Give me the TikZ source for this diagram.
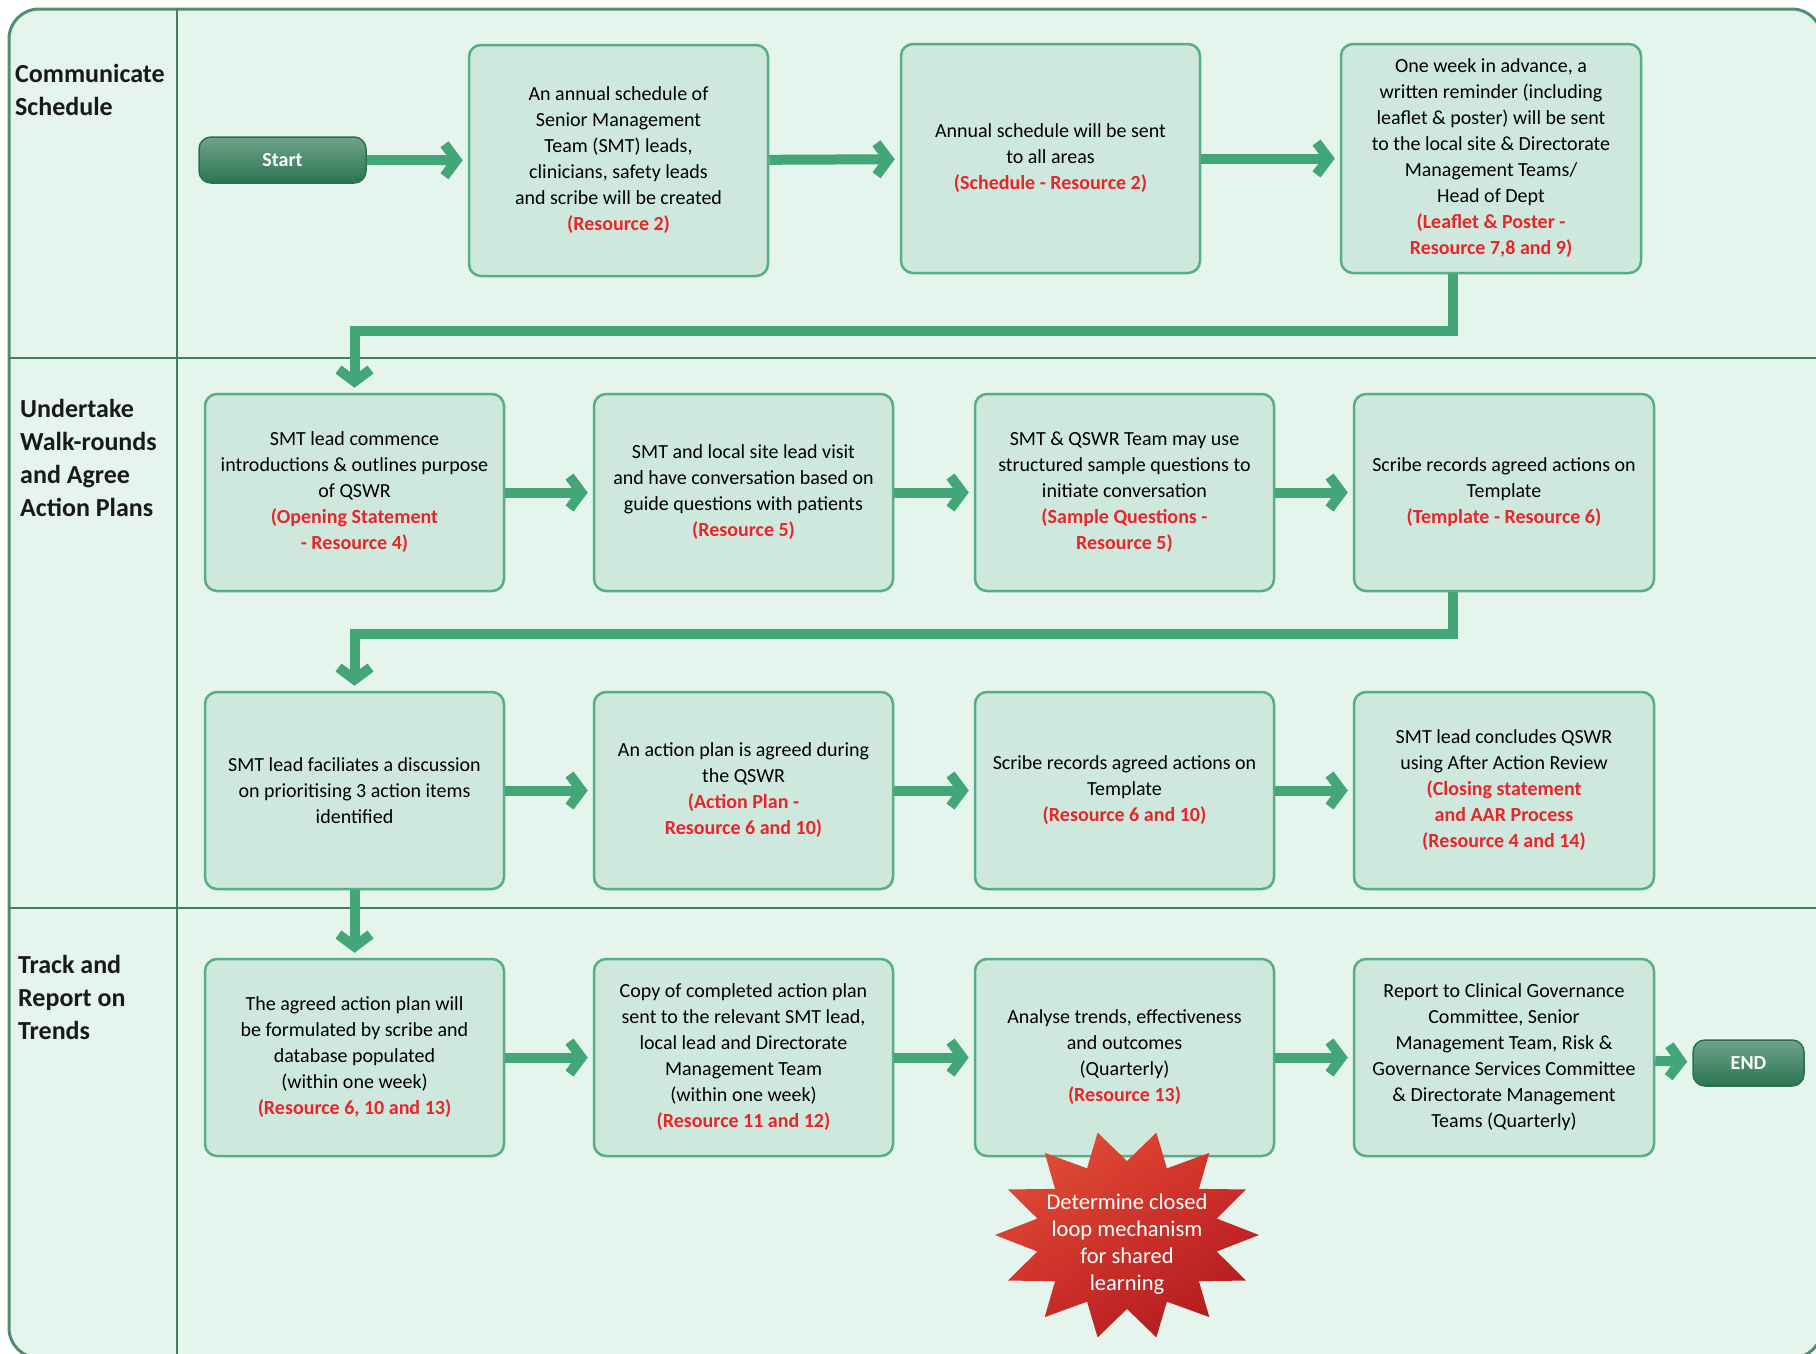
\documentclass[tikz,border=0pt]{standalone}
\usepackage{fontspec}
\setmainfont{Carlito}
\usetikzlibrary{arrows.meta,shadings}

\definecolor{framefill}{HTML}{E5F4EC}
\definecolor{frameline}{HTML}{4F8F70}
\definecolor{laneline}{HTML}{3F7F60}
\definecolor{boxfill}{HTML}{CFE8DD}
\definecolor{boxline}{HTML}{55AE85}
\definecolor{flowgreen}{HTML}{43A677}
\definecolor{resred}{HTML}{E8262A}
\definecolor{termlight}{HTML}{6FA38B}
\definecolor{termdark}{HTML}{2A7552}
\definecolor{termline}{HTML}{2A6E4E}
\definecolor{starul}{HTML}{E4573A}
\definecolor{starur}{HTML}{D6302A}
\definecolor{starll}{HTML}{CC2A28}
\definecolor{starlr}{HTML}{A8161C}

\newcommand{\resnote}[1]{\textcolor{resred}{\bfseries #1}}

\begin{document}
\begin{tikzpicture}[x=1pt,y=-1pt,
  stepbox/.style={draw=boxline, fill=boxfill, line width=2.5pt,
    rounded corners=12pt, align=center, text=black, inner sep=4pt,
    minimum width=299pt, minimum height=197pt,
    font=\fontsize{20}{26}\selectfont},
  terminal/.style={draw=termline, line width=1.5pt, rounded corners=12pt,
    top color=termlight, bottom color=termdark, text=white,
    minimum height=46pt, font=\fontsize{20}{24}\selectfont\bfseries},
  lanelabel/.style={anchor=north west, inner sep=0pt, align=left,
    text=black!90, font=\fontsize{26}{33}\selectfont\bfseries},
  flow/.style={draw=flowgreen, line width=10pt,
    -{Straight Barb[length=12pt,width=32pt]}, shorten >=5pt},
  laneline/.style={draw=laneline, line width=2.2pt}
]
\useasboundingbox (0,0) rectangle (1816,1353);

% swimlane frame and separators
\draw[fill=framefill, draw=frameline, line width=3pt, rounded corners=30pt]
  (9,9) rectangle (1822,1358);
\draw[laneline] (177,9) -- (177,1356);
\draw[laneline] (9,358) -- (1816,358);
\draw[laneline] (9,908) -- (1816,908);

% lane titles
\node[lanelabel] (lane1) at (15,64) {Communicate\\Schedule};
\node[lanelabel] (lane2) at (20,399) {Undertake\\Walk-rounds\\and Agree\\Action Plans};
\node[lanelabel] (lane3) at (18,955) {Track and\\Report on\\Trends};

% lane 1
\node[terminal, minimum width=167pt] (start) at (282.5,160) {Start};
\node[stepbox, minimum height=231pt] (a) at (618.5,160.5)
  {An annual schedule of\\Senior Management\\Team (SMT) leads,\\clinicians, safety leads\\and scribe will be created\\\resnote{(Resource 2)}};
\node[stepbox, minimum height=229pt] (b) at (1050.5,158.5)
  {Annual schedule will be sent\\to all areas\\\resnote{(Schedule - Resource 2)}};
\node[stepbox, minimum height=229pt, minimum width=300pt] (c) at (1491,158.5)
  {One week in advance, a\\written reminder (including\\leaflet \& poster) will be sent\\to the local site \& Directorate\\Management Teams/\\Head of Dept\\\resnote{(Leaflet \& Poster -}\\\resnote{Resource 7,8 and 9)}};

% lane 2, first row
\node[stepbox] (p1) at (354.5,492.5)
  {SMT lead commence\\introductions \& outlines purpose\\of QSWR\\\resnote{(Opening Statement}\\\resnote{- Resource 4)}};
\node[stepbox] (p2) at (743.5,492.5)
  {SMT and local site lead visit\\and have conversation based on\\guide questions with patients\\\resnote{(Resource 5)}};
\node[stepbox] (p3) at (1124.5,492.5)
  {SMT \& QSWR Team may use\\structured sample questions to\\initiate conversation\\\resnote{(Sample Questions -}\\\resnote{Resource 5)}};
\node[stepbox, minimum width=300pt] (p4) at (1504,492.5)
  {Scribe records agreed actions on\\Template\\\resnote{(Template - Resource 6)}};

% lane 2, second row
\node[stepbox] (q1) at (354.5,790.5)
  {SMT lead faciliates a discussion\\on prioritising 3 action items\\identified};
\node[stepbox] (q2) at (743.5,790.5)
  {An action plan is agreed during\\the QSWR\\\resnote{(Action Plan -}\\\resnote{Resource 6 and 10)}};
\node[stepbox] (q3) at (1124.5,790.5)
  {Scribe records agreed actions on\\Template\\\resnote{(Resource 6 and 10)}};
\node[stepbox, minimum width=300pt] (q4) at (1504,790.5)
  {SMT lead concludes QSWR\\using After Action Review\\\resnote{(Closing statement}\\\resnote{and AAR Process}\\\resnote{(Resource 4 and 14)}};

% lane 3
\node[stepbox] (t1) at (354.5,1057.5)
  {The agreed action plan will\\be formulated by scribe and\\database populated\\(within one week)\\\resnote{(Resource 6, 10 and 13)}};
\node[stepbox] (t2) at (743.5,1057.5)
  {Copy of completed action plan\\sent to the relevant SMT lead,\\local lead and Directorate\\Management Team\\(within one week)\\\resnote{(Resource 11 and 12)}};
\node[stepbox] (t3) at (1124.5,1057.5)
  {Analyse trends, effectiveness\\and outcomes\\(Quarterly)\\\resnote{(Resource 13)}};
\node[stepbox, minimum width=300pt] (t4) at (1504,1057.5)
  {Report to Clinical Governance\\Committee, Senior\\Management Team, Risk \&\\Governance Services Committee\\\& Directorate Management\\Teams (Quarterly)};
\node[terminal, minimum width=111pt] (end) at (1748.5,1063) {END};

% connectors
\draw[flow] (start) -- (a);
\draw[flow] (a) -- (b);
\draw[flow] (b) -- (c);
\draw[flow] ([xshift=-38pt]c.south) -- ++(0,57) -| (p1.north);
\draw[flow] (p1) -- (p2);
\draw[flow] (p2) -- (p3);
\draw[flow] (p3) -- (p4);
\draw[flow] ([xshift=-51pt]p4.south) -- ++(0,42) -| (q1.north);
\draw[flow] (q1) -- (q2);
\draw[flow] (q2) -- (q3);
\draw[flow] (q3) -- (q4);
\draw[flow] (q1) -- (t1);
\draw[flow] (t1) -- (t2);
\draw[flow] (t2) -- (t3);
\draw[flow] (t3) -- (t4);
\draw[flow] (t4) -- (end);

% closed-loop starburst
\shade[upper left=starul, upper right=starur,
       lower left=starll, lower right=starlr,
       shift={(1127,1235)}]
  (0:132pt and 105pt)
  \foreach \k in {0,...,13} {
    -- ({(\k+0.5)*360/14}:92pt and 74pt) -- ({(\k+1)*360/14}:132pt and 105pt)
  } -- cycle;
\node[align=center, text=white, font=\fontsize{22.5}{27}\selectfont] (loop) at (1127,1244)
  {Determine closed\\loop mechanism\\for shared\\learning};
\end{tikzpicture}
\end{document}
